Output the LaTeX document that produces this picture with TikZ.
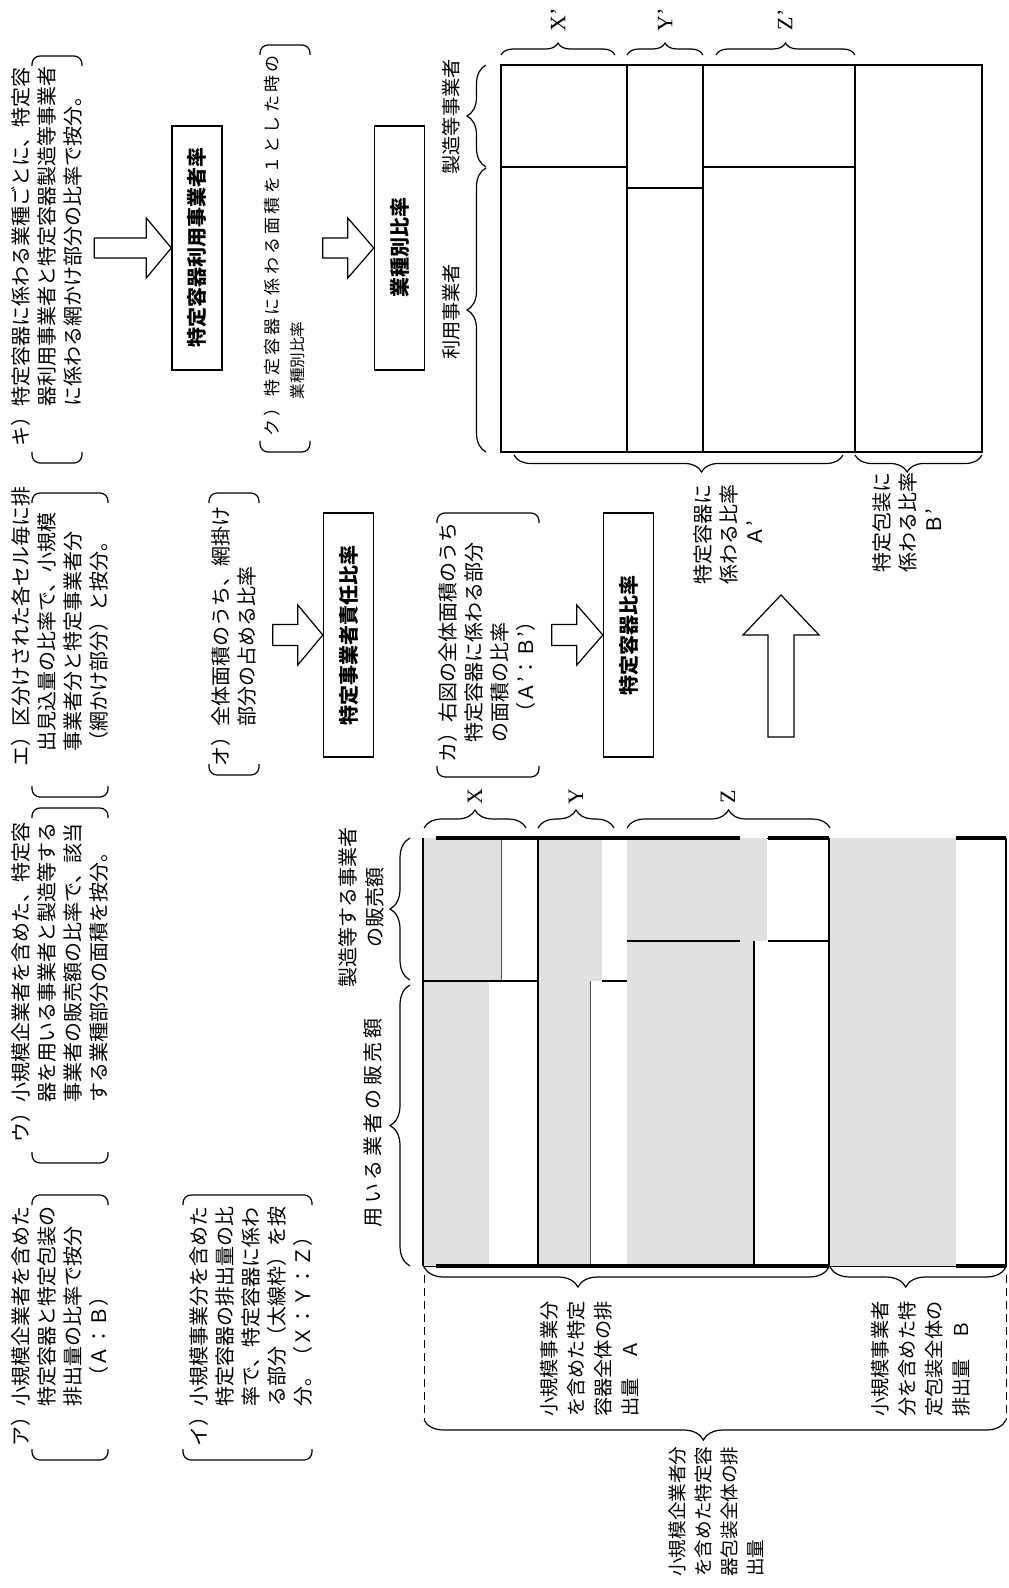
\documentclass[tikz,border=0pt]{standalone}
\usepackage{fontspec}
\setmainfont{Noto Sans CJK JP}
\newfontfamily\romanfont{Liberation Serif}
\usetikzlibrary{decorations.pathreplacing}

\tikzset{
  para/.style={rotate=90, anchor=north west, align=left, inner sep=0pt, font=\fontsize{10}{13}\selectfont},
  note/.style={rotate=90, align=center, inner sep=0pt, font=\fontsize{10}{13}\selectfont},
  ratebox/.style={draw, rotate=90, line width=0.7pt, minimum width=122pt, minimum height=25pt, inner sep=0pt, font=\bfseries\fontsize{10}{12}\selectfont},
  fatarrow/.style={draw, line width=0.6pt, fill=white},
  bkt/.style={line width=0.6pt, rounded corners=4pt},
  curly/.style={decorate, decoration={brace, amplitude=#1}, line width=0.6pt},
  hatch/.style={fill=black!12},
  letter/.style={rotate=90, inner sep=0pt, font=\romanfont\fontsize{11}{12}\selectfont},
}

\begin{document}
\begin{tikzpicture}[x=0.5pt, y=0.5pt]
    \useasboundingbox (0,0) rectangle (1008,-1588);
    \foreach \xa/\xb/\ya/\yb in {32/82/56/463, 260/310/45/452, 32/108/493/797, 209/259/493/775, 437/539/513/777, 32/108/808/1163, 32/108/1195/1460, 183/312/1195/1460} {
        \draw[bkt] (\xa,-\ya-10) -- (\xa,-\ya) -- (\xb,-\ya) -- (\xb,-\ya-10);
        \draw[bkt] (\xa,-\yb+11) -- (\xa,-\yb) -- (\xb,-\yb) -- (\xb,-\yb+11);
    }
    \node[para] (ki) at (11,-447) {キ）特定容器に係わる業種ごとに、特定容\\\hspace*{2em}器利用事業者と特定容器製造等事業者\\\hspace*{2em}に係わる網かけ部分の比率で按分。};
    \node[para, font=\fontsize{8.5}{12.5}\selectfont] (ku) at (264,-437) {{\addfontfeature{LetterSpace=19}ク）特定容器に係わる面積を１とした時の}\\\hspace*{18.5pt}{\fontsize{7.8}{12.5}\selectfont 業種別比率}};
    \node[para] (e) at (11,-767) {エ）区分けされた各セル毎に排\\\hspace*{0.75em}出見込量の比率で、小規模\\\hspace*{0.75em}事業者分と特定事業者分\\\hspace*{0.75em}（網かけ部分）と按分。};
    \node[para] (o) at (211,-767) {オ）全体面積のうち、網掛け\\\hspace*{2em}部分の占める比率};
    \node[para] (ka) at (438,-763) {カ）右図の全体面積のうち\\\hspace*{1em}特定容器に係わる部分\\\hspace*{1em}の面積の比率\\\hspace*{2em}（Ａ’：Ｂ’）};
    \node[para] (u) at (11,-1143) {ウ）小規模企業者を含めた、特定容\\\hspace*{2em}器を用いる事業者と製造等する\\\hspace*{2em}事業者の販売額の比率で、該当\\\hspace*{2em}する業種部分の面積を按分。};
    \node[para] (a) at (11,-1447) {ア）小規模企業者を含めた\\\hspace*{2em}特定容器と特定包装の\\\hspace*{2em}排出量の比率で按分\\\hspace*{3em}（Ａ：Ｂ）};
    \node[para] (i) at (189,-1447) {イ）小規模事業分を含めた\\\hspace*{2em}特定容器の排出量の比\\\hspace*{2em}率で、特定容器に係わ\\\hspace*{2em}る部分（太線枠）を按\\\hspace*{2em}分。（Ｘ：Ｙ：Ｚ）};

    \node[ratebox] (riyou) at (197,-248) {特定容器利用事業者率};
    \node[ratebox] (gyoshu) at (399.5,-248) {業種別比率};
    \node[ratebox] (sekinin) at (348.5,-635) {特定事業者責任比率};
    \node[ratebox] (yoki) at (628.5,-635) {特定容器比率};
    \draw[fatarrow] (riyou.north) -- ++(-25,30) -- ++(0,-20) -- ++(-52,0) -- ++(0,-20) -- ++(52,0) -- ++(0,-20) -- cycle;
    \draw[fatarrow] (gyoshu.north) -- ++(-26,30) -- ++(0,-20) -- ++(-25,0) -- ++(0,-20) -- ++(25,0) -- ++(0,-20) -- cycle;
    \draw[fatarrow] (sekinin.north) -- ++(-25,30) -- ++(0,-19.5) -- ++(-25,0) -- ++(0,-21) -- ++(25,0) -- ++(0,-19.5) -- cycle;
    \draw[fatarrow] (yoki.north) -- ++(-26,30) -- ++(0,-19.5) -- ++(-25,0) -- ++(0,-21) -- ++(25,0) -- ++(0,-19.5) -- cycle;
    \draw[fatarrow] (781,-595) -- (819,-635) -- (794,-635) -- (794,-737) -- (768,-737) -- (768,-635) -- (743,-635) -- cycle;

    \draw[line width=1.3pt] (501,-65) rectangle (982,-452);
    \draw[line width=0.6pt] (627,-65) -- (627,-452) (703,-65) -- (703,-452) (855,-65) -- (855,-452);
    \draw[line width=0.6pt] (501,-167) -- (627,-167) (627,-188) -- (703,-188) (703,-167) -- (855,-167);
    \draw[curly=6pt] (501,-55) -- (615,-55);
    \draw[curly=6pt] (627,-55) -- (703,-55);
    \draw[curly=6pt] (716,-55) -- (855,-55);
    \draw[curly=9.5pt] (486,-167) -- (486,-65);
    \draw[curly=9.5pt] (486,-452) -- (486,-168);
    \draw[curly=8.5pt, decoration={aspect=0.43}] (843,-455) -- (514,-455);
    \draw[curly=8.5pt, decoration={aspect=0.59}] (982,-455) -- (855,-455);
    \node[letter] (xp) at (558,-20) {X’};
    \node[letter] (yp) at (665,-20) {Y’};
    \node[letter] (zp) at (785,-20) {Z’};
    \node[note, font=\fontsize{9.6}{12}\selectfont] (seizo) at (451,-117) {製造等事業者};
    \node[note, font=\fontsize{9.6}{12}\selectfont] (riyo) at (451,-312) {利用事業者};
    \node[note] (ap) at (728,-534) {特定容器に\\係わる比率\\Ａ’};
    \node[note] (bp) at (907,-522) {特定包装に\\係わる比率\\Ｂ’};

    \draw[line width=0.5pt] (423,-838) rectangle (1006,-1266);
    \fill[hatch] (424,-838) rectangle (501,-981);
    \fill[hatch] (424,-981) rectangle (489,-1266);
    \fill[hatch] (538,-838) rectangle (602,-981);
    \fill[hatch] (538,-981) rectangle (590,-1266);
    \fill[hatch] (627,-838) rectangle (767,-941);
    \fill[hatch] (627,-941) rectangle (754,-1266);
    \fill[hatch] (829,-838) rectangle (956,-1266);
    \draw[line width=0.7pt] (423,-838) -- (423,-1266);
    \draw[line width=0.6pt] (538,-838) -- (538,-1266) (754,-941) -- (754,-1266);
    \draw[line width=0.5pt, black!70] (501,-838) -- (501,-981) (590,-981) -- (590,-1266);
    \draw[line width=0.6pt] (423,-981) -- (538,-981) (602,-981) -- (627,-981) (627,-941) -- (740,-941) (768,-941) -- (829,-941);
    \draw[line width=1pt] (829,-838) -- (829,-1266);
    \draw[line width=0.7pt] (1006,-838) -- (1006,-1266);
    \draw[line width=1.6pt] (436,-838) -- (740,-838) (768,-838) -- (829,-838) (436,-1266) -- (829,-1266) (956,-838) -- (1006,-838) (956,-1266) -- (1006,-1266);
    \draw[curly=9pt] (424,-828) -- (526,-828);
    \draw[curly=9pt] (538,-828) -- (614,-828);
    \draw[curly=9pt] (627,-828) -- (830,-828);
    \draw[curly=10pt] (410,-980) -- (410,-838);
    \draw[curly=10pt] (410,-1266) -- (410,-985);
    \draw[curly=10pt, decoration={aspect=0.62}] (829,-1267) -- (424,-1267);
    \draw[curly=10pt, decoration={aspect=0.57}] (1006,-1267) -- (830,-1267);
    \draw[line width=0.5pt, dash pattern=on 4pt off 2.5pt] (424,-1275) -- (424,-1420) (1006,-1275) -- (1006,-1420);
    \draw[curly=10pt, decoration={aspect=0.52}] (1006,-1420) -- (424,-1420);
    \node[letter] (x) at (475,-797) {X};
    \node[letter] (y) at (576,-797) {Y};
    \node[letter] (z) at (728,-797) {Z};
    \node[note, font=\fontsize{10}{13.5}\selectfont] (uri1) at (361.5,-907) {製造等する事業者\\の販売額};
    \node[note, font={\fontsize{10}{13}\selectfont\addfontfeature{LetterSpace=18}}] (uri2) at (373,-1123) {用いる業者の販売額};
    \node[para, font=\fontsize{9.6}{13.5}\selectfont] (suma) at (540,-1417) {小規模事業分\\を含めた特定\\容器全体の排\\出量　Ａ};
    \node[para, font=\fontsize{9.6}{13.5}\selectfont] (sumb) at (871,-1417) {小規模事業者\\分を含めた特\\定包装全体の\\排出量　Ｂ};
    \node[para, font=\fontsize{9.3}{13}\selectfont] (total) at (668,-1577) {小規模企業者分\\を含めた特定容\\器包装全体の排\\出量};
\end{tikzpicture}
\end{document}
